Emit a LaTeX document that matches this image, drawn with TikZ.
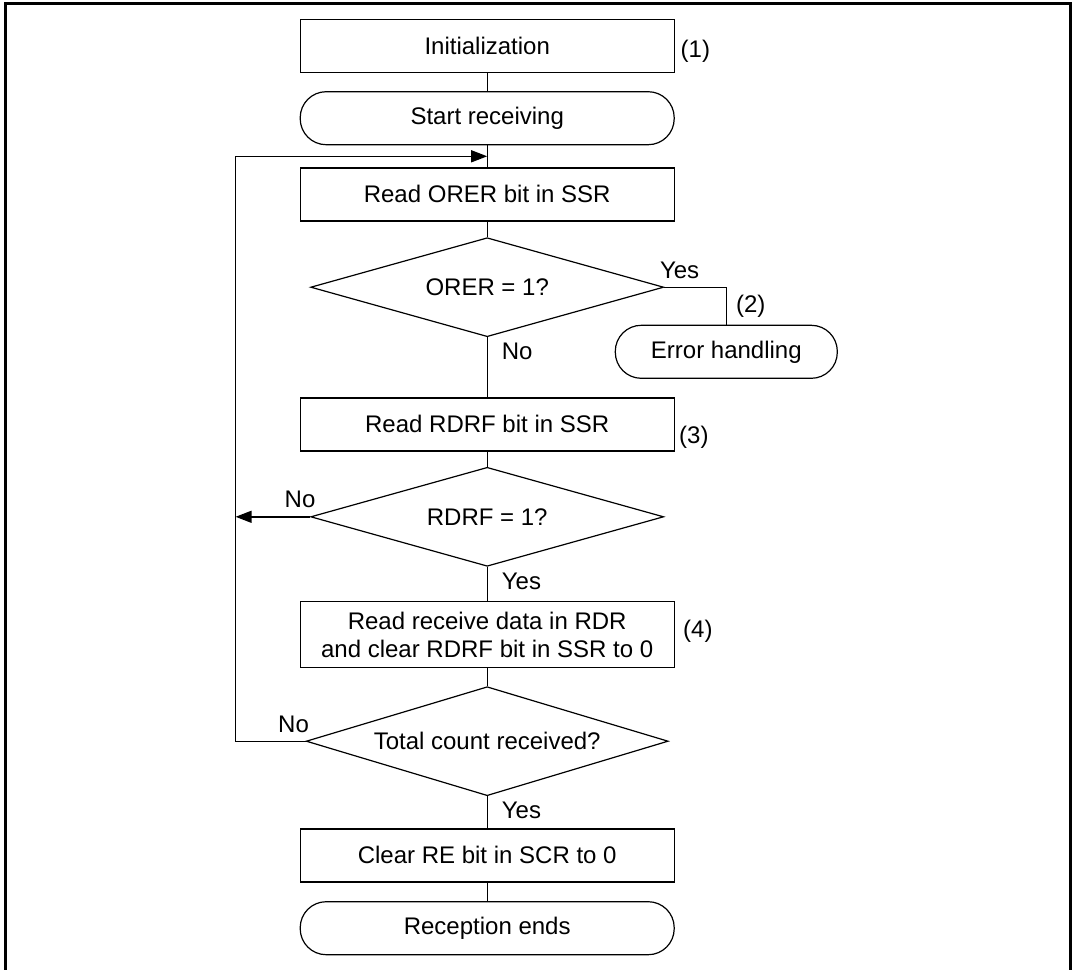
\documentclass[tikz,border=0pt]{standalone}
\usepackage{fontspec}
\setmainfont{Liberation Sans}
\usetikzlibrary{arrows.meta,positioning,shapes.geometric,calc}
\tikzset{
    proc/.style={rectangle, draw, line width=0.6pt, minimum width=187pt,
                 minimum height=26.5pt, inner sep=0pt, align=center,
                 font=\fontsize{12}{14}\selectfont},
    term/.style={proc, rounded corners=13pt},
    dec/.style={diamond, draw, line width=0.6pt, inner sep=0pt, aspect=3.5,
                minimum width=176.5pt, minimum height=49.5pt,
                font=\fontsize{12}{14}\selectfont},
    lbl/.style={inner sep=0pt, font=\fontsize{12}{14}\selectfont},
    ln/.style={line width=0.7pt},
    arr/.style={-{Triangle[length=8pt,width=6pt]}, line width=0.7pt},
    frm/.style={line width=1.3pt},
}
\begin{document}
\begin{tikzpicture}
    \useasboundingbox (0,0) rectangle (538pt,-484.5pt);
    \draw[frm] (2.65pt,-490pt) |- (535.35pt,-1.65pt) -- (535.35pt,-490pt);

    % Flow blocks
    \node[proc] (init) at (243.6pt,-23pt) {Initialization};
    \node[term, below=9pt of init]       (start)    {Start receiving};
    \node[proc, below=11pt of start]     (orerread) {Read ORER bit in SSR};
    \node[dec,  below=7.8pt of orerread] (orerq)    {ORER = 1?};
    \node[term, minimum width=111pt] (err) at ($(orerq.east)+(31pt,-32.3pt)$) {Error handling};
    \node[proc, below=30pt of orerq]     (rdrfread) {Read RDRF bit in SSR};
    \node[dec,  below=7.6pt of rdrfread] (rdrfq)    {RDRF = 1?};
    \node[proc, below=17pt of rdrfq, minimum height=33pt] (rdr)
        {Read receive data in RDR\\and clear RDRF bit in SSR to 0};
    \node[dec,  below=9pt of rdr, minimum width=181pt, minimum height=54.5pt] (total)
        {Total count received?};
    \node[proc, below=16pt of total]     (clear)    {Clear RE bit in SCR to 0};
    \node[term, below=9.3pt of clear]    (ends)     {Reception ends};

    % Step numbers
    \node[lbl, anchor=west] (n1) at ($(init.east)+(2.75pt,-2.75pt)$) {(1)};
    \node[lbl, anchor=west] (n3) at ($(rdrfread.east)+(2pt,-6.4pt)$) {(3)};
    \node[lbl, anchor=west] (n4) at ($(rdr.east)+(4pt,1.5pt)$) {(4)};

    % Main path
    \coordinate (join) at ($(start.south)!0.5!(orerread.north)$);
    \coordinate (back) at ($(total.west)+(-35pt,0)$);
    \draw[ln] (init) -- (start);
    \draw[ln] (start) -- (orerread);
    \draw[ln] (orerread) -- (orerq);
    \draw[ln] (orerq) -- node[lbl, anchor=north west, pos=0, xshift=7pt, yshift=-2.5pt]{No} (rdrfread);
    \draw[ln] (orerq.east) -| node[lbl, anchor=south west, pos=0, xshift=-2.5pt, yshift=4pt]{Yes}
        node[lbl, anchor=west, pos=0.75, xshift=4.5pt]{(2)} (err.north);
    \draw[ln] (rdrfread) -- (rdrfq);
    \draw[ln] (rdrfq) -- node[lbl, anchor=north west, pos=0, xshift=7pt, yshift=-2.5pt]{Yes} (rdr);
    \draw[ln] (rdr) -- (total);
    \draw[ln] (total) -- node[lbl, anchor=north west, pos=0, xshift=7pt, yshift=-2.5pt]{Yes} (clear);
    \draw[ln] (clear) -- (ends);

    % Loop back
    \draw[arr] (rdrfq.west) -- node[lbl, anchor=south east, pos=0, xshift=3pt, yshift=4pt]{No} (rdrfq.west -| back);
    \draw[arr] (total.west) -- node[lbl, anchor=south east, pos=0, xshift=2pt, yshift=4pt]{No} (back) |- (join);
\end{tikzpicture}
\end{document}
